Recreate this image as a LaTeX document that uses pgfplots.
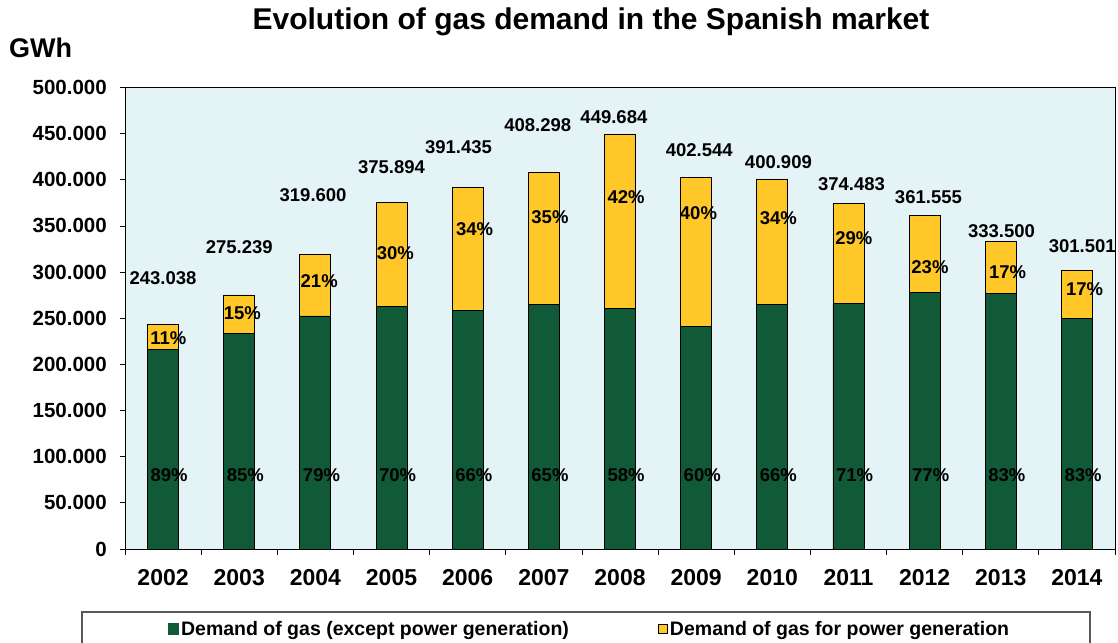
\documentclass[border=0pt]{standalone}
\usepackage{pgfplots}
\pgfplotsset{compat=1.18}
\usepackage{fontspec}
\setmainfont{Liberation Sans}
\definecolor{gasgreen}{RGB}{17,90,55}
\definecolor{gasyellow}{RGB}{255,200,40}
\definecolor{plotbg}{RGB}{228,243,245}

% GWh; green = demand except power generation, yellow = power generation
\pgfplotstableread{
x  green   yellow
0  216304  26734
1  233953  41286
2  252484  67116
3  263126  112768
4  258347  133088
5  265394  142904
6  260817  188867
7  241526  161018
8  264600  136309
9  265883  108600
10 278397  83158
11 276805  56695
12 250246  51255
}\demand

\newcommand{\lbl}{\bfseries\fontsize{18.5}{22}\selectfont}

\begin{document}
\begin{tikzpicture}
\useasboundingbox (0pt,0pt) rectangle (1118pt,642pt);
\clip (0pt,0pt) rectangle (1118pt,642pt);
% legend frame
\draw[gray!70!black, line width=1.2pt, fill=white] (82pt,-20pt) rectangle (1090pt,30pt);
\begin{axis}[
  at={(125pt,93pt)}, anchor=south west,
  scale only axis, width=990pt, height=461.5pt,
  ybar stacked, bar width=31pt,
  xmin=-0.5, xmax=12.5, ymin=0, ymax=500000,
  axis background/.style={fill=plotbg},
  axis line style={black, line width=0.8pt},
  tick align=outside, xtick pos=bottom, ytick pos=left,
  xtick={0,...,12},
  xticklabels={2002,2003,2004,2005,2006,2007,2008,2009,2010,2011,2012,2013,2014},
  major x tick style={draw=none},
  minor xtick={-0.5,0.5,...,12.5},
  minor tick length=6pt, major tick length=5pt,
  tick style={black, line width=0.8pt},
  ytick={0,50000,...,500000},
  yticklabels={0,50.000,100.000,150.000,200.000,250.000,300.000,350.000,400.000,450.000,500.000},
  scaled y ticks=false,
  yticklabel style={font=\bfseries\fontsize{20.5}{24}\selectfont, inner sep=0pt, xshift=-13pt},
  xticklabel style={font=\bfseries\fontsize{23}{26}\selectfont, inner sep=0pt, yshift=-15pt},
  legend columns=2,
  legend style={at={(0.0405,-0.1733)}, anchor=west, draw=none, fill=none,
    font=\bfseries\fontsize{19.5}{22}\selectfont,
    nodes={inner sep=2pt},
    /tikz/every even column/.append style={column sep=87pt}},
  after end axis/.code={
    % totals
    \node[font=\lbl] at (axis cs:0,293600) {243.038};
    \node[font=\lbl] at (axis cs:1,327200) {275.239};
    \node[font=\lbl] at (axis cs:1.97,383500) {319.600};
    \node[font=\lbl] at (axis cs:3,413900) {375.894};
    \node[font=\lbl] at (axis cs:3.88,435500) {391.435};
    \node[font=\lbl] at (axis cs:4.92,459400) {408.298};
    \node[font=\lbl] at (axis cs:5.92,468000) {449.684};
    \node[font=\lbl] at (axis cs:7.04,432300) {402.544};
    \node[font=\lbl] at (axis cs:8.08,419300) {400.909};
    \node[font=\lbl] at (axis cs:9.04,395500) {374.483};
    \node[font=\lbl] at (axis cs:10.05,381400) {361.555};
    \node[font=\lbl] at (axis cs:11.01,344500) {333.500};
    \node[font=\lbl] at (axis cs:12.07,328300) {301.501};
    % share for power generation
    \node[font=\lbl] at (axis cs:0.07,228600) {11\%};
    \node[font=\lbl] at (axis cs:1.04,255700) {15\%};
    \node[font=\lbl] at (axis cs:2.05,290400) {21\%};
    \node[font=\lbl] at (axis cs:3.05,320700) {30\%};
    \node[font=\lbl] at (axis cs:4.09,346700) {34\%};
    \node[font=\lbl] at (axis cs:5.08,359700) {35\%};
    \node[font=\lbl] at (axis cs:6.08,381400) {42\%};
    \node[font=\lbl] at (axis cs:7.03,364000) {40\%};
    \node[font=\lbl] at (axis cs:8.08,358600) {34\%};
    \node[font=\lbl] at (axis cs:9.07,336900) {29\%};
    \node[font=\lbl] at (axis cs:10.07,305500) {23\%};
    \node[font=\lbl] at (axis cs:11.09,300100) {17\%};
    \node[font=\lbl] at (axis cs:12.1,281700) {17\%};
    % share except power generation
    \node[font=\lbl] at (axis cs:0.08,80200) {89\%};
    \node[font=\lbl] at (axis cs:1.08,80200) {85\%};
    \node[font=\lbl] at (axis cs:2.08,80200) {79\%};
    \node[font=\lbl] at (axis cs:3.08,80200) {70\%};
    \node[font=\lbl] at (axis cs:4.08,80200) {66\%};
    \node[font=\lbl] at (axis cs:5.08,80200) {65\%};
    \node[font=\lbl] at (axis cs:6.08,80200) {58\%};
    \node[font=\lbl] at (axis cs:7.08,80200) {60\%};
    \node[font=\lbl] at (axis cs:8.08,80200) {66\%};
    \node[font=\lbl] at (axis cs:9.08,80200) {71\%};
    \node[font=\lbl] at (axis cs:10.08,80200) {77\%};
    \node[font=\lbl] at (axis cs:11.08,80200) {83\%};
    \node[font=\lbl] at (axis cs:12.08,80200) {83\%};
  },
]
\addplot[fill=gasgreen, draw=black, line width=0.8pt,
  legend image code/.code={\fill[gasgreen] (0pt,-5.5pt) rectangle (10pt,5.5pt);}]
  table[x=x, y=green] {\demand};
\addlegendentry{Demand of gas (except power generation)}
\addplot[fill=gasyellow, draw=black, line width=0.8pt,
  legend image code/.code={\draw[fill=gasyellow, draw=black, line width=1pt] (0.5pt,-4.5pt) rectangle (9.5pt,4.5pt);}]
  table[x=x, y=yellow] {\demand};
\addlegendentry{Demand of gas for power generation}
\end{axis}
\node[font=\bfseries\fontsize{30}{34}\selectfont] at (591pt,620pt) {Evolution of gas demand in the Spanish market};
\node[font=\bfseries\fontsize{27}{30}\selectfont, anchor=west, inner sep=0pt] at (9pt,594pt) {GWh};
\end{tikzpicture}
\end{document}
